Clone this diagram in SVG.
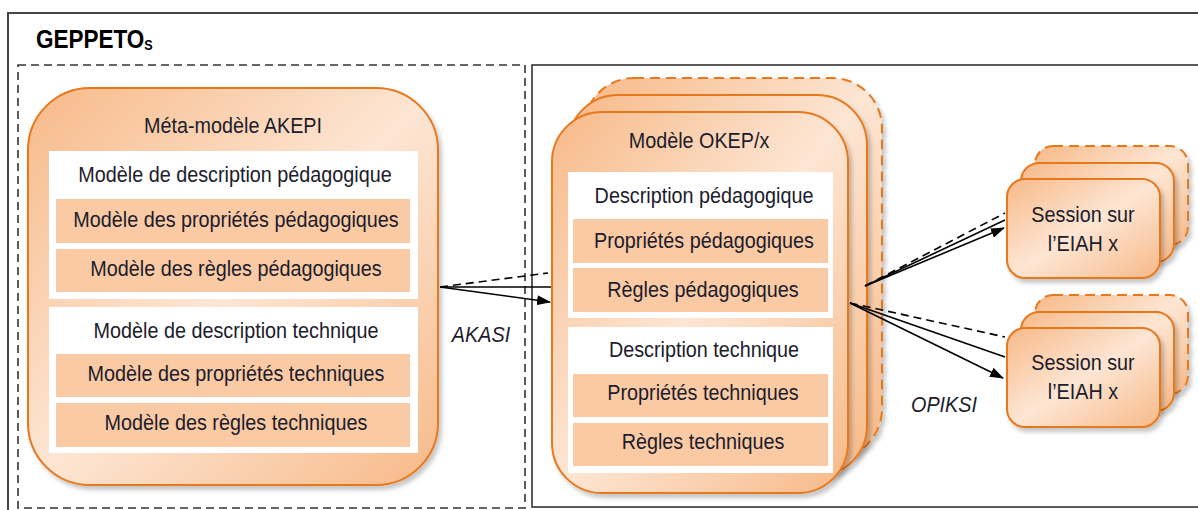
<svg xmlns="http://www.w3.org/2000/svg" width="1198" height="510" viewBox="0 0 1198 510">
<defs>
<linearGradient id="g" x1="0" y1="0" x2="1" y2="1">
<stop offset="0" stop-color="#f7b988"/>
<stop offset="0.5" stop-color="#fde6d4"/>
<stop offset="1" stop-color="#f7b988"/>
</linearGradient>
<filter id="sh" x="-10%" y="-10%" width="125%" height="125%">
<feDropShadow dx="3" dy="4" stdDeviation="2" flood-color="#000" flood-opacity="0.22"/>
</filter>
<marker id="ah" markerWidth="14" markerHeight="10" refX="13" refY="5" orient="auto" markerUnits="userSpaceOnUse">
<path d="M0,0 L14,5 L0,10 Z" fill="#000"/>
</marker>
<style>
.node{fill:url(#g);stroke:#e8781f;stroke-width:2}
.dnode{fill:url(#g);stroke:#e8781f;stroke-width:2;stroke-dasharray:10 6}
.panel{fill:#fff}
.row{fill:#f9caa3}
.t{font-family:"Liberation Sans",Arial,sans-serif;font-size:22px;fill:#1c1c2c;text-anchor:middle}
.i{font-style:italic}
.c{fill:none;stroke:#000;stroke-width:1.6}
.cd{fill:none;stroke:#000;stroke-width:1.6;stroke-dasharray:8 5}
</style>
</defs>
<rect width="1198" height="510" fill="#fff"/>
<g id="frame">
<rect x="8" y="13" width="1200" height="510" fill="none" stroke="#444" stroke-width="2"/>
<text x="36" y="48" font-family="'Liberation Sans',Arial,sans-serif" font-weight="bold" font-size="25" fill="#000" transform="translate(36 0) scale(0.9 1) translate(-36 0)">GEPPETO<tspan font-size="14" dy="2">S</tspan></text>
<rect x="18" y="65" width="507" height="443" fill="none" stroke="#333" stroke-width="1.6" stroke-dasharray="8 5"/>
<rect x="532" y="65" width="700" height="442" fill="none" stroke="#333" stroke-width="1.6"/>
</g>
<g id="akepi">
<rect class="node" x="28" y="88" width="410" height="397" rx="62" filter="url(#sh)"/>
<text class="t" transform="translate(233 133) scale(0.9 1)">Méta-modèle AKEPI</text>
<rect class="panel" x="49" y="151" width="369" height="148"/>
<text class="t" transform="translate(235 182) scale(0.9 1)">Modèle de description pédagogique</text>
<rect class="row" x="56" y="199" width="354" height="44"/>
<text class="t" transform="translate(236 227) scale(0.9 1)">Modèle des propriétés pédagogiques</text>
<rect class="row" x="56" y="249" width="354" height="43"/>
<text class="t" transform="translate(236 276) scale(0.9 1)">Modèle des règles pédagogiques</text>
<rect class="panel" x="49" y="307" width="369" height="146"/>
<text class="t" transform="translate(236 338) scale(0.9 1)">Modèle de description technique</text>
<rect class="row" x="56" y="354" width="354" height="43"/>
<text class="t" transform="translate(236 381) scale(0.9 1)">Modèle des propriétés techniques</text>
<rect class="row" x="56" y="403" width="354" height="44"/>
<text class="t" transform="translate(236 430) scale(0.9 1)">Modèle des règles techniques</text>
</g>
<g id="okep">
<rect class="dnode" x="584" y="78" width="298" height="381" rx="50" filter="url(#sh)"/>
<rect class="node" x="568" y="95" width="299" height="381" rx="50" filter="url(#sh)"/>
<rect class="node" x="552" y="112" width="296" height="381" rx="50" filter="url(#sh)"/>
<text class="t" transform="translate(699 148) scale(0.9 1)">Modèle OKEP/x</text>
<rect class="panel" x="568" y="172" width="265" height="146"/>
<text class="t" transform="translate(704 203) scale(0.9 1)">Description pédagogique</text>
<rect class="row" x="573" y="219" width="255" height="44"/>
<text class="t" transform="translate(704 248) scale(0.9 1)">Propriétés pédagogiques</text>
<rect class="row" x="573" y="268" width="255" height="44"/>
<text class="t" transform="translate(703 297) scale(0.9 1)">Règles pédagogiques</text>
<rect class="panel" x="568" y="327" width="265" height="146"/>
<text class="t" transform="translate(704 357) scale(0.9 1)">Description technique</text>
<rect class="row" x="573" y="374" width="255" height="43"/>
<text class="t" transform="translate(703 400) scale(0.9 1)">Propriétés techniques</text>
<rect class="row" x="573" y="423" width="255" height="43"/>
<text class="t" transform="translate(703 449) scale(0.9 1)">Règles techniques</text>
</g>
<g id="session1">
<rect class="dnode" x="1035" y="146" width="153" height="99" rx="18" filter="url(#sh)"/>
<rect class="node" x="1021" y="163" width="153" height="99" rx="18" filter="url(#sh)"/>
<rect class="node" x="1007" y="179" width="153" height="99" rx="18" filter="url(#sh)"/>
<text class="t" transform="translate(1083 222) scale(0.9 1)">Session sur</text>
<text class="t" transform="translate(1083 251) scale(0.9 1)">l’EIAH x</text>
</g>
<g id="session2">
<rect class="dnode" x="1035" y="295" width="153" height="99" rx="18" filter="url(#sh)"/>
<rect class="node" x="1021" y="312" width="153" height="99" rx="18" filter="url(#sh)"/>
<rect class="node" x="1007" y="328" width="153" height="99" rx="18" filter="url(#sh)"/>
<text class="t" transform="translate(1083 370) scale(0.9 1)">Session sur</text>
<text class="t" transform="translate(1083 399) scale(0.9 1)">l’EIAH x</text>
</g>
<g id="connectors">
<path class="cd" d="M440,287 L548,273"/>
<path class="c" d="M440,287 L551,287"/>
<path class="c" d="M440,287 L550,302" marker-end="url(#ah)"/>
<path class="cd" d="M865,286 L1005,213"/>
<path class="c" d="M865,286 L1005,220"/>
<path class="c" d="M865,286 L1004,228" marker-end="url(#ah)"/>
<path class="cd" d="M850,303 L1005,337"/>
<path class="c" d="M850,303 L1005,357"/>
<path class="c" d="M850,303 L1003,378" marker-end="url(#ah)"/>
<text class="t i" transform="translate(481 342) scale(0.9 1)">AKASI</text>
<text class="t i" transform="translate(944 412) scale(0.9 1)">OPIKSI</text>
</g>
</svg>
